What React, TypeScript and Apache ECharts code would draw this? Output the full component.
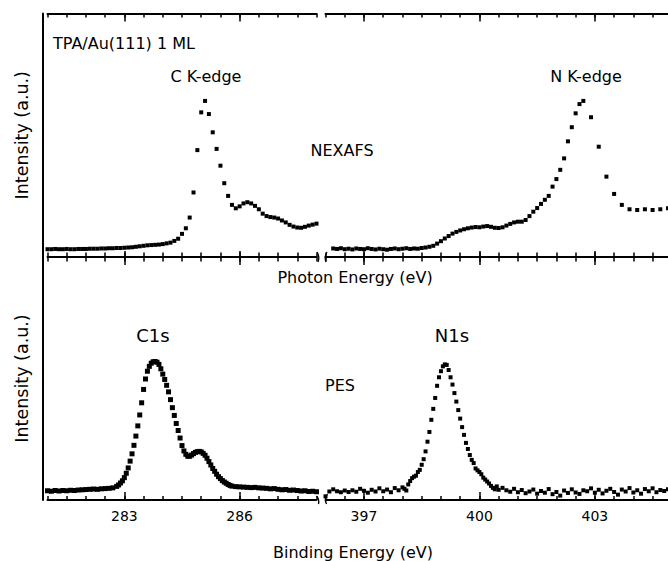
import React, { useEffect, useRef } from "react";
import * as echarts from "echarts";

const FONT = "DejaVu Sans";

// Axis extents (eV)
const leftRange = [281, 288];
const rightRange = [396, 404.9];
const leftMinorTicks = [281, 281.5, 282, 282.5, 283, 283.5, 284, 284.5, 285, 285.5, 286, 286.5, 287, 287.5, 288];
const rightMinorTicks = [396, 396.5, 397, 397.5, 398, 398.5, 399, 399.5, 400, 400.5, 401, 401.5, 402, 402.5, 403, 403.5, 404, 404.5];
const leftMajorTicks = [283, 286];
const rightMajorTicks = [397, 400, 403];

// NEXAFS C K-edge [photon energy, intensity]
const nexafsC = [
  [281.0, 3.2], [281.1, 3.2], [281.2, 3.3], [281.3, 3.2], [281.4, 3.2], [281.5, 3.3], [281.6, 3.2], [281.7, 3.2],
  [281.8, 3.3], [281.9, 3.3], [282.0, 3.3], [282.1, 3.4], [282.2, 3.4], [282.3, 3.4], [282.4, 3.5], [282.5, 3.5],
  [282.6, 3.6], [282.7, 3.6], [282.8, 3.7], [282.9, 3.7], [283.0, 3.8], [283.1, 3.9], [283.2, 4.0], [283.3, 4.2],
  [283.4, 4.4], [283.5, 4.6], [283.6, 4.8], [283.7, 4.9], [283.8, 5.0], [283.9, 5.1], [284.0, 5.3], [284.1, 5.6],
  [284.2, 5.9], [284.3, 6.6], [284.4, 7.5], [284.5, 9.5], [284.6, 11.8], [284.7, 16.2], [284.8, 26.5], [284.9, 43.9],
  [285.0, 59.4], [285.1, 64.1], [285.2, 58.7], [285.3, 51.2], [285.4, 44.4], [285.5, 37.5], [285.6, 30.3], [285.7, 25.1],
  [285.8, 21.4], [285.9, 20.0], [286.0, 20.8], [286.1, 22.0], [286.2, 22.5], [286.3, 22.0], [286.4, 21.0], [286.5, 19.6],
  [286.6, 17.8], [286.7, 16.8], [286.8, 16.4], [286.9, 16.2], [287.0, 15.8], [287.1, 15.0], [287.2, 14.2], [287.3, 13.2],
  [287.4, 12.5], [287.5, 12.1], [287.6, 12.0], [287.7, 12.4], [287.8, 12.9], [287.9, 13.3], [288.0, 13.7],
];

// NEXAFS N K-edge [photon energy, intensity]
const nexafsN = [
  [396.2, 3.5], [396.3, 3.3], [396.4, 3.6], [396.5, 3.2], [396.6, 3.4], [396.7, 3.1], [396.8, 3.5], [396.9, 3.3],
  [397.0, 3.2], [397.1, 3.6], [397.2, 3.3], [397.3, 3.1], [397.4, 3.4], [397.5, 3.2], [397.6, 3.0], [397.7, 3.3],
  [397.8, 3.5], [397.9, 3.2], [398.0, 3.4], [398.1, 3.6], [398.2, 3.3], [398.3, 3.5], [398.4, 3.4], [398.5, 3.7],
  [398.6, 3.9], [398.7, 4.2], [398.8, 4.6], [398.9, 5.5], [399.0, 6.5], [399.1, 7.6], [399.2, 8.6], [399.3, 9.6],
  [399.4, 10.3], [399.5, 10.9], [399.6, 11.4], [399.7, 11.8], [399.8, 12.1], [399.9, 12.3], [400.0, 12.2], [400.1, 12.5],
  [400.2, 12.7], [400.3, 12.4], [400.4, 12.0], [400.5, 11.9], [400.6, 12.2], [400.7, 12.9], [400.8, 13.6], [400.9, 14.2],
  [401.0, 14.5], [401.1, 14.5], [401.2, 15.2], [401.3, 16.8], [401.4, 18.6], [401.5, 20.1], [401.6, 21.8], [401.7, 23.5],
  [401.8, 25.1], [401.9, 28.9], [402.0, 32.0], [402.1, 35.8], [402.2, 40.5], [402.3, 47.5], [402.4, 53.3], [402.5, 59.0],
  [402.6, 62.8], [402.7, 64.1], [402.9, 57.4], [403.1, 45.3], [403.3, 33.0], [403.5, 25.9], [403.7, 21.4], [403.9, 19.6],
  [404.1, 19.3], [404.3, 19.6], [404.5, 19.3], [404.7, 19.6], [404.9, 20.0],
];

// PES C1s [binding energy, intensity]
const pesC = [
  [281.0, 3.8], [281.1, 3.6], [281.2, 3.9], [281.3, 3.7], [281.4, 3.9], [281.5, 3.8], [281.6, 4.0], [281.7, 3.9],
  [281.8, 4.1], [281.9, 4.2], [282.0, 4.3], [282.1, 4.4], [282.2, 4.5], [282.3, 4.4], [282.4, 4.6], [282.5, 4.7],
  [282.6, 4.8], [282.7, 5.0], [282.8, 5.6], [282.85, 6.2], [282.9, 7.0], [282.95, 7.9], [283.0, 9.2], [283.05, 11.0],
  [283.1, 13.2], [283.15, 16.0], [283.2, 19.0], [283.25, 22.5], [283.3, 26.3], [283.35, 30.5], [283.4, 35.0], [283.45, 40.0],
  [283.5, 45.5], [283.55, 49.8], [283.6, 53.0], [283.65, 55.0], [283.7, 56.3], [283.75, 56.9], [283.8, 57.0], [283.85, 56.7],
  [283.9, 55.8], [283.95, 54.0], [284.0, 51.8], [284.05, 49.6], [284.1, 47.2], [284.15, 44.5], [284.2, 41.3], [284.25, 38.0],
  [284.3, 34.8], [284.35, 31.5], [284.4, 28.6], [284.45, 25.5], [284.5, 22.4], [284.55, 20.2], [284.6, 18.8], [284.65, 18.0],
  [284.7, 18.0], [284.75, 18.5], [284.8, 19.1], [284.85, 19.6], [284.9, 19.9], [284.95, 20.0], [285.0, 19.8], [285.05, 19.2],
  [285.1, 18.4], [285.15, 17.2], [285.2, 15.8], [285.25, 14.4], [285.3, 13.0], [285.35, 11.8], [285.4, 10.6], [285.45, 9.6],
  [285.5, 8.8], [285.55, 8.0], [285.6, 7.4], [285.65, 6.9], [285.7, 6.4], [285.75, 6.0], [285.8, 5.7], [285.9, 5.5],
  [286.0, 5.4], [286.1, 5.3], [286.2, 5.2], [286.3, 5.1], [286.4, 5.2], [286.5, 5.0], [286.6, 4.9], [286.7, 4.8],
  [286.8, 4.6], [286.9, 4.7], [287.0, 4.4], [287.1, 4.2], [287.2, 4.3], [287.3, 4.0], [287.4, 4.1], [287.5, 3.9],
  [287.6, 3.7], [287.7, 3.8], [287.8, 3.5], [287.9, 3.6], [288.0, 3.4],
];

// PES N1s [binding energy, intensity]
const pesN = [
  [396.0, 1.5], [396.1, 3.5], [396.2, 4.4], [396.3, 3.6], [396.4, 3.2], [396.5, 3.9], [396.6, 3.3], [396.7, 4.0],
  [396.8, 3.4], [396.9, 4.6], [397.0, 3.8], [397.1, 3.0], [397.2, 4.2], [397.3, 3.5], [397.4, 4.8], [397.5, 3.6],
  [397.6, 4.3], [397.7, 3.2], [397.8, 4.9], [397.9, 4.0], [398.0, 5.2], [398.05, 4.6], [398.1, 3.9], [398.15, 6.4],
  [398.2, 7.8], [398.25, 9.0], [398.3, 9.6], [398.35, 10.0], [398.4, 11.5], [398.45, 12.4], [398.5, 14.5], [398.55, 16.8],
  [398.6, 20.0], [398.65, 24.0], [398.7, 28.0], [398.75, 33.0], [398.8, 37.5], [398.85, 42.0], [398.9, 47.0], [398.95, 50.5],
  [399.0, 53.0], [399.05, 55.0], [399.1, 55.8], [399.15, 55.6], [399.2, 53.5], [399.25, 50.5], [399.3, 47.5], [399.35, 44.0],
  [399.4, 40.5], [399.45, 37.0], [399.5, 33.5], [399.55, 30.0], [399.6, 26.8], [399.65, 23.5], [399.7, 21.0], [399.75, 18.5],
  [399.8, 16.5], [399.85, 15.2], [399.9, 13.0], [399.95, 12.2], [400.0, 11.5], [400.05, 10.6], [400.1, 9.2], [400.15, 8.4],
  [400.2, 7.6], [400.25, 6.8], [400.3, 5.8], [400.35, 5.0], [400.4, 4.4], [400.45, 5.6], [400.5, 4.2], [400.6, 5.0],
  [400.7, 4.0], [400.8, 3.4], [400.9, 4.6], [401.0, 3.2], [401.1, 4.1], [401.2, 2.8], [401.3, 3.5], [401.4, 4.3],
  [401.5, 2.6], [401.6, 3.7], [401.7, 3.0], [401.8, 4.5], [401.9, 2.4], [402.0, 3.3], [402.1, 1.8], [402.2, 3.9],
  [402.3, 2.9], [402.4, 4.4], [402.5, 3.1], [402.6, 2.5], [402.7, 4.0], [402.8, 3.6], [402.9, 4.8], [403.0, 3.0],
  [403.1, 4.2], [403.2, 2.7], [403.3, 3.8], [403.4, 4.6], [403.5, 3.3], [403.6, 2.2], [403.7, 4.3], [403.8, 3.5],
  [403.9, 4.9], [404.0, 3.1], [404.1, 4.0], [404.2, 2.6], [404.3, 4.5], [404.4, 3.6], [404.5, 4.8], [404.6, 3.2],
  [404.7, 4.1], [404.8, 3.7], [404.9, 4.4],
];

const yRange = [0, 100];

function xAxis(
  gridIndex: number,
  range: number[],
  position: string,
  ticks: number[],
  length: number,
  inside: boolean,
  showLine: boolean,
  labels?: number[]
) {
  return {
    type: "value",
    gridIndex,
    position,
    min: range[0],
    max: range[1],
    interval: 0.5,
    axisLine: { show: showLine, onZero: false, lineStyle: { color: "#000", width: 2 } },
    axisTick: { show: true, inside, length, customValues: ticks, lineStyle: { color: "#000", width: 1.5 } },
    axisLabel: labels
      ? { show: true, customValues: labels, margin: 9, color: "#000", fontSize: 14, fontFamily: FONT }
      : { show: false },
    splitLine: { show: false },
  };
}

function yAxis(gridIndex: number, show: boolean) {
  return {
    type: "value",
    gridIndex,
    min: yRange[0],
    max: yRange[1],
    show,
    position: "left",
    offset: 5,
    axisLine: { show: true, onZero: false, lineStyle: { color: "#000", width: 2 } },
    axisTick: { show: false },
    axisLabel: { show: false },
    splitLine: { show: false },
    name: "Intensity (a.u.)",
    nameLocation: "middle",
    nameGap: 12,
    nameTextStyle: { color: "#000", fontSize: 17.5, fontFamily: FONT },
  };
}

function text(str: string, x: number, y: number, size: number, align = "center") {
  return {
    type: "text",
    x,
    y,
    silent: true,
    style: {
      text: str,
      fill: "#000",
      fontSize: size,
      fontFamily: FONT,
      textAlign: align,
      textVerticalAlign: "middle",
      align,
      verticalAlign: "middle",
    },
  };
}

function brk(x1: number, y1: number, cx: number, cy: number, x2: number, y2: number) {
  return {
    type: "bezierCurve",
    silent: true,
    shape: { x1, y1, x2, y2, cpx1: cx, cpy1: cy },
    style: { stroke: "#000", lineWidth: 1.3, fill: "none" },
  };
}

export default function App() {
  const ref = useRef<HTMLDivElement>(null);
  useEffect(() => {
    if (!ref.current) return;
    const chart = echarts.init(ref.current, null, { renderer: "svg" });

    const grids = [
      { left: 47.5, right: 351.5, top: 13.5, bottom: 304, outerBoundsMode: "none" },
      { left: 325.5, right: 0, top: 13.5, bottom: 304, outerBoundsMode: "none" },
      { left: 47.5, right: 351.5, top: 257, bottom: 61, outerBoundsMode: "none" },
      { left: 325.5, right: 0, top: 257, bottom: 61, outerBoundsMode: "none" },
    ];

    const xAxes: any[] = [];
    const primary: number[] = [];
    const topPanel = (g: number, range: number[], minor: number[], major: number[]) => {
      primary.push(xAxes.length);
      xAxes.push(xAxis(g, range, "bottom", minor, 4.5, false, true));
      xAxes.push(xAxis(g, range, "bottom", minor, 4.5, true, false));
      xAxes.push(xAxis(g, range, "bottom", major, 8, false, false));
      xAxes.push(xAxis(g, range, "bottom", major, 6, true, false));
      xAxes.push(xAxis(g, range, "top", minor, 4, true, true));
      xAxes.push(xAxis(g, range, "top", major, 8, true, false));
    };
    const bottomPanel = (g: number, range: number[], minor: number[], major: number[]) => {
      primary.push(xAxes.length);
      xAxes.push(xAxis(g, range, "bottom", minor, 4, true, true));
      xAxes.push(xAxis(g, range, "bottom", major, 8, true, false, major));
    };
    topPanel(0, leftRange, leftMinorTicks, leftMajorTicks);
    topPanel(1, rightRange, rightMinorTicks, rightMajorTicks);
    bottomPanel(2, leftRange, leftMinorTicks, leftMajorTicks);
    bottomPanel(3, rightRange, rightMinorTicks, rightMajorTicks);

    const yAxes = [yAxis(0, true), yAxis(1, false), yAxis(2, true), yAxis(3, false)];

    const scatter = (g: number, data: number[][], size: number) => ({
      type: "scatter",
      xAxisIndex: primary[g],
      yAxisIndex: g,
      data,
      symbol: "rect",
      symbolSize: size,
      itemStyle: { color: "#000", opacity: 1 },
      emphasis: { disabled: true },
      silent: true,
    });

    chart.setOption({
      animation: false,
      backgroundColor: "#fff",
      textStyle: { fontFamily: FONT },
      grid: grids,
      xAxis: xAxes,
      yAxis: yAxes,
      series: [
        scatter(0, nexafsC, 4),
        scatter(1, nexafsN, 4),
        scatter(2, pesC, 5),
        scatter(3, pesN, 4),
      ],
      graphic: [
        text("TPA/Au(111) 1 ML", 53, 43, 16, "left"),
        text("C K-edge", 206, 76, 16),
        text("N K-edge", 586, 76, 16),
        text("NEXAFS", 342, 150, 16),
        text("Photon Energy (eV)", 355, 277, 16),
        text("C1s", 153, 335, 18),
        text("N1s", 452, 335, 18),
        text("PES", 340, 385, 16),
        text("Binding Energy (eV)", 353, 552, 16),
        brk(317, 252, 320, 257, 318, 262),
        brk(327, 252, 324, 257, 326, 262),
        brk(316.5, 496, 319.5, 499, 318.5, 504),
        brk(327.5, 494, 324, 499, 326.5, 504),
      ],
    });
    return () => chart.dispose();
  }, []);
  return (
    <div
      ref={ref}
      style={{ position: "absolute", left: 0, top: 0, width: 668, height: 561 }}
    />
  );
}
